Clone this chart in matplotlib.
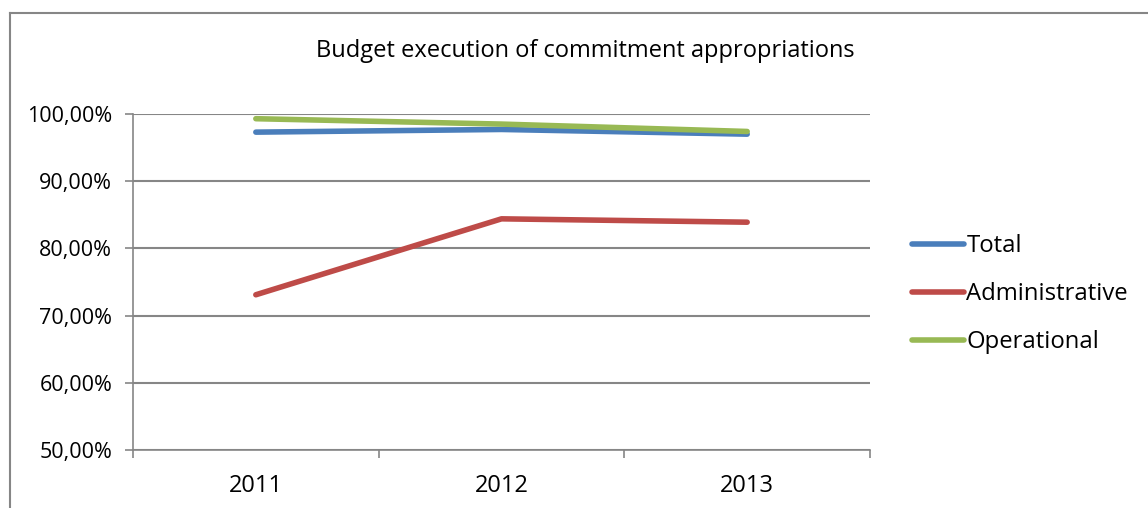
import matplotlib.pyplot as plt
from matplotlib.lines import Line2D
from matplotlib.ticker import FuncFormatter

years = ['2011', '2012', '2013']
total = [97.3, 97.7, 97.0]
administrative = [73.1, 84.4, 83.9]
operational = [99.3, 98.5, 97.4]

plt.rcParams['font.family'] = ['Open Sans', 'DejaVu Sans']

W, H = 1148, 508
fig = plt.figure(figsize=(W / 100, H / 100), dpi=100)
ax = fig.add_axes([133 / W, 58 / H, (870 - 133) / W, (450 - 114) / H])

x = range(len(years))
ax.plot(x, total, color='#4A7EBB', lw=4, label='Total', solid_capstyle='round')
ax.plot(x, administrative, color='#BE4B48', lw=4, label='Administrative', solid_capstyle='round')
ax.plot(x, operational, color='#98B954', lw=4, label='Operational', solid_capstyle='round')

ax.set_xlim(-0.5, 2.5)
ax.set_ylim(50, 100)
ax.set_yticks(range(50, 101, 10))
ax.yaxis.set_major_formatter(FuncFormatter(lambda v, p: '{:.2f}%'.format(v).replace('.', ',')))
ax.set_xticks(list(x))
ax.set_xticklabels(years)
ax.set_xticks([-0.5, 0.5, 1.5, 2.5], minor=True)
ax.tick_params(axis='x', which='major', length=0, pad=17, labelsize=17)
ax.tick_params(axis='x', which='minor', length=6, color='#868686', width=1.2)
ax.tick_params(axis='y', length=6, color='#868686', width=1.2, labelsize=15.5, pad=9)
ax.grid(axis='y', color='#868686', lw=1.5)
ax.set_axisbelow(True)
for s in ['top', 'right']:
    ax.spines[s].set_visible(False)
ax.spines['left'].set_color('#868686')
ax.spines['bottom'].set_color('#868686')
ax.spines['left'].set_linewidth(1.2)
ax.spines['bottom'].set_linewidth(1.2)

fig.text(585 / W, 1 - 51 / H, 'Budget execution of commitment appropriations',
         ha='center', va='center', fontsize=17)

leg = fig.legend(loc='center left', bbox_to_anchor=(902 / W, 1 - 294 / H), frameon=False,
                 fontsize=17.2, handlelength=2.2, handletextpad=0.1, labelspacing=1.0,
                 borderaxespad=0)

# chart border (cropped at right and bottom)
fig.add_artist(Line2D([9.5 / W, 9.5 / W], [0, 1 - 12.7 / H], color='#868686', lw=1.5))
fig.add_artist(Line2D([9.5 / W, 1], [1 - 12.7 / H, 1 - 12.7 / H], color='#868686', lw=1.5))

fig.savefig('out.png', dpi=100)
